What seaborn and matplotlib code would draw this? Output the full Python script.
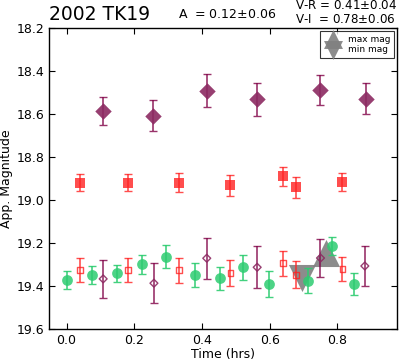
import numpy as np
import pandas as pd
import matplotlib
matplotlib.use("Agg")
import matplotlib.pyplot as plt
import seaborn as sns

# V band (filled diamonds, top row)
v_t = [0.108, 0.256, 0.414, 0.563, 0.750, 0.883]
v_mag = [18.586, 18.608, 18.492, 18.532, 18.488, 18.530]
v_err = [0.067, 0.073, 0.077, 0.078, 0.070, 0.072]

# R band (filled squares, middle row)
r_t = [0.039, 0.182, 0.332, 0.484, 0.639, 0.677, 0.815]
r_mag = [18.920, 18.920, 18.920, 18.932, 18.890, 18.941, 18.916]
r_err = [0.040, 0.040, 0.044, 0.050, 0.044, 0.050, 0.043]

# I band (filled circles)
i_t = [0.0, 0.076, 0.148, 0.223, 0.295, 0.379, 0.453, 0.520, 0.599, 0.714, 0.783, 0.850]
i_mag = [19.372, 19.349, 19.341, 19.299, 19.264, 19.349, 19.364, 19.313, 19.392, 19.375, 19.214, 19.391]
i_err = [0.043, 0.042, 0.040, 0.043, 0.054, 0.057, 0.054, 0.059, 0.061, 0.057, 0.043, 0.052]

# R shifted by colour (open squares)
rs_t = [0.039, 0.182, 0.332, 0.484, 0.639, 0.677, 0.815]
rs_mag = [19.326, 19.326, 19.326, 19.338, 19.295, 19.347, 19.322]
rs_err = [0.055, 0.055, 0.058, 0.060, 0.057, 0.062, 0.057]

# V shifted by colour (open diamonds)
vs_t = [0.108, 0.258, 0.414, 0.563, 0.750, 0.881]
vs_mag = [19.367, 19.387, 19.271, 19.313, 19.270, 19.307]
vs_err = [0.087, 0.093, 0.096, 0.097, 0.090, 0.093]

# lightcurve extremes
max_t, max_mag = [0.766], [19.248]
min_t, min_mag = [0.694], [19.361]

purple = "#8c2a62"
purple_bar = "#800046"
red = "#ff2222"
green = "#2ecc71"

sns.set_style("ticks")
plt.rcParams.update({
    "xtick.direction": "in", "ytick.direction": "in",
    "xtick.top": True, "ytick.right": True,
    "axes.edgecolor": "black", "font.family": ["DejaVu Sans"],
    "text.color": "black", "axes.labelcolor": "black",
    "xtick.color": "black", "ytick.color": "black",
})

fig = plt.figure(figsize=(4.0, 3.62), dpi=100)
ax = fig.add_axes([0.1225, 0.0912, 0.87, 0.8315])

# extremes first, under everything else
sns.scatterplot(x=max_t, y=max_mag, marker="^", s=380, color="gray", alpha=0.9,
                linewidth=0, ax=ax, label="max mag", zorder=1)
sns.scatterplot(x=min_t, y=min_mag, marker="v", s=380, color="gray", alpha=0.9,
                linewidth=0, ax=ax, label="min mag", zorder=1)

ax.errorbar(v_t, v_mag, yerr=v_err, fmt="none", ecolor=purple_bar, capsize=3, elinewidth=1.2, alpha=0.8)
sns.scatterplot(x=v_t, y=v_mag, marker="D", s=70, color=purple, alpha=0.9, linewidth=0, ax=ax, zorder=3)

ax.errorbar(r_t, r_mag, yerr=r_err, fmt="none", ecolor=red, capsize=3, elinewidth=1.2, alpha=0.8)
sns.scatterplot(x=r_t, y=r_mag, marker="s", s=45, color=red, alpha=0.8, linewidth=0, ax=ax, zorder=3)

ax.errorbar(i_t, i_mag, yerr=i_err, fmt="none", ecolor=green, capsize=3, elinewidth=1.2, alpha=0.9)
sns.scatterplot(x=i_t, y=i_mag, marker="o", s=60, color=green, alpha=0.85, linewidth=0, ax=ax, zorder=3)

ax.errorbar(rs_t, rs_mag, yerr=rs_err, fmt="none", ecolor=red, capsize=3, elinewidth=1.2, alpha=0.8)
sns.scatterplot(x=rs_t, y=rs_mag, marker="s", s=18, facecolor="none", edgecolor=red, linewidth=1,
                alpha=0.8, ax=ax, zorder=3)

ax.errorbar(vs_t, vs_mag, yerr=vs_err, fmt="none", ecolor=purple_bar, capsize=3, elinewidth=1.2, alpha=0.8)
sns.scatterplot(x=vs_t, y=vs_mag, marker="D", s=16, facecolor="none", edgecolor=purple, linewidth=1,
                alpha=0.9, ax=ax, zorder=3)

ax.set_xlim(-0.052, 0.976)
ax.set_ylim(19.6, 18.2)
ax.set_xticks([0.0, 0.2, 0.4, 0.6, 0.8])
ax.set_yticks(np.arange(18.2, 19.61, 0.2))
ax.tick_params(labelsize=9, length=4, width=0.8)
for s in ax.spines.values():
    s.set_linewidth(1.0)

ax.set_xlabel("Time (hrs)", fontsize=9, labelpad=1)
ax.set_ylabel("App. Magnitude", fontsize=9, labelpad=2)

leg = ax.legend(loc="upper right", fontsize=6.5, frameon=True, fancybox=False,
                handletextpad=0.6, labelspacing=0.15, borderpad=0.45, markerscale=0.7,
                borderaxespad=0.3)
leg.get_frame().set_edgecolor("black")
leg.get_frame().set_linewidth(0.8)

fig.text(0.1225, 0.935, "2002 TK19", fontsize=13.5, ha="left", va="bottom")
fig.text(0.445, 0.96, "A  = 0.12$\\pm$0.06", fontsize=9, ha="left", va="center")
fig.text(0.737, 0.985, "V-R = 0.41$\\pm$0.04", fontsize=8.6, ha="left", va="center")
fig.text(0.737, 0.945, "V-I  = 0.78$\\pm$0.06", fontsize=8.6, ha="left", va="center")

fig.savefig("out.png", dpi=100)
